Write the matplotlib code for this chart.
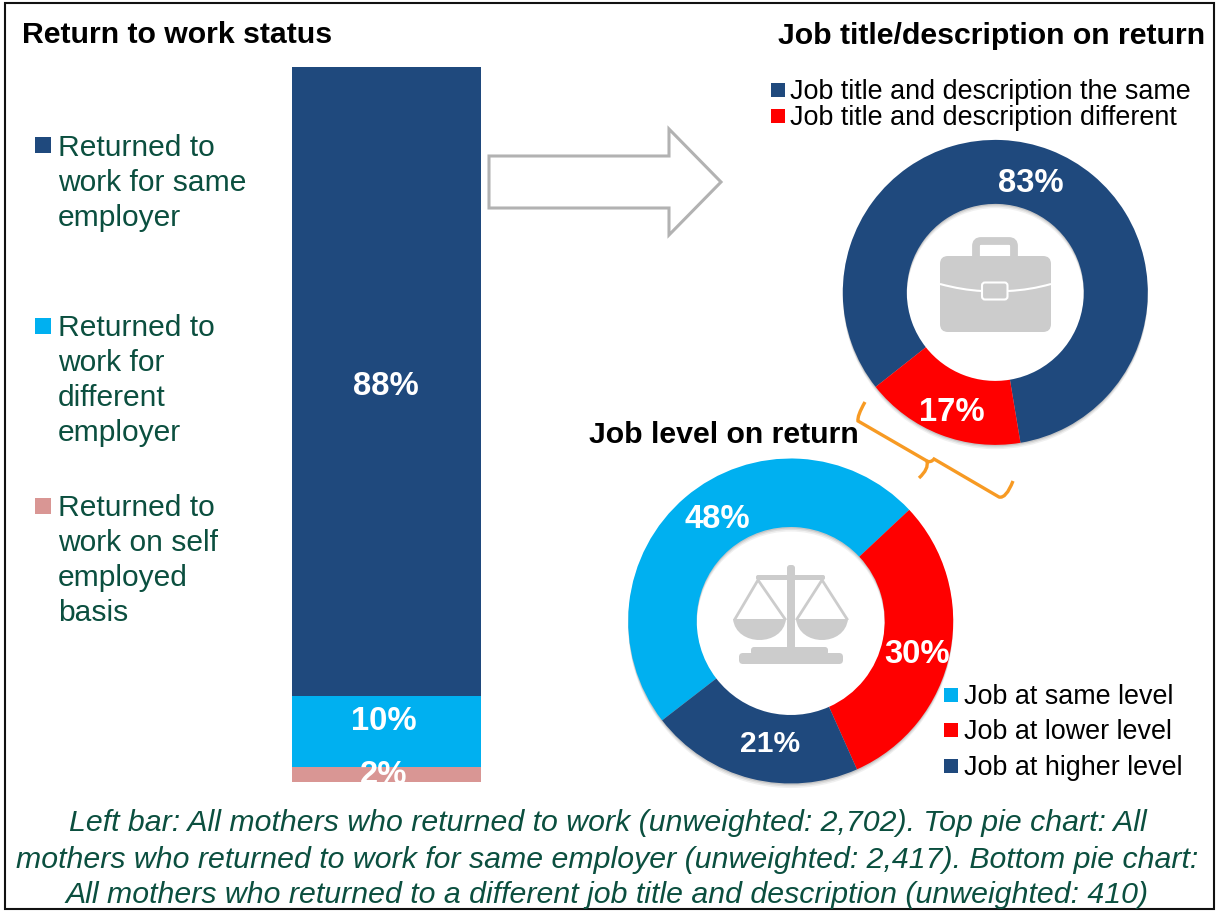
import matplotlib
matplotlib.use("Agg")
import matplotlib.pyplot as plt
from matplotlib.patches import Rectangle, Polygon, FancyBboxPatch, PathPatch
from matplotlib.path import Path

W, H = 1216, 912
NAVY, CYAN, PINK, RED = "#1f497d", "#00b0f0", "#d99694", "#ff0000"
GREEN = "#0b4f3f"
GREY = "#cccccc"
ORANGE = "#f79a23"
plt.rcParams["font.family"] = ["Liberation Sans", "DejaVu Sans"]

# ---- data ----
bar_values = [88, 10, 2]
bar_colors = [NAVY, CYAN, PINK]
bar_legend = ["Returned to\nwork for same\nemployer",
              "Returned to\nwork for\ndifferent\nemployer",
              "Returned to\nwork on self\nemployed\nbasis"]
title_values = [83, 17]
title_colors = [NAVY, RED]
title_legend = ["Job title and description the same", "Job title and description different"]
level_values = [48, 30, 21]
level_colors = [CYAN, RED, NAVY]
level_legend = ["Job at same level", "Job at lower level", "Job at higher level"]
footnote = ["Left bar: All mothers who returned to work (unweighted: 2,702). Top pie chart: All",
            "mothers who returned to work for same employer (unweighted: 2,417). Bottom pie chart:",
            "All mothers who returned to a different job title and description (unweighted: 410)"]

fig = plt.figure(figsize=(W / 100, H / 100), dpi=100, facecolor="white")


def box(x0, y0, x1, y1):
    return [x0 / W, 1 - y1 / H, (x1 - x0) / W, (y1 - y0) / H]


# ---- stacked bar ----
ax_bar = fig.add_axes(box(292, 67.6, 481, 782.6))
bottom = 0
for v, c in zip(bar_values, bar_colors):
    ax_bar.bar(0, v, width=1, bottom=bottom, color=c, linewidth=0)
    bottom += v
ax_bar.set_xlim(-0.5, 0.5)
ax_bar.set_ylim(100, 0)
ax_bar.axis("off")


def donut(values, colors, cx, cy, R, r, start):
    pad = 1.06
    ax = fig.add_axes(box(cx - R * pad, cy - R * pad, cx + R * pad, cy + R * pad))
    w = 1 - r / R
    for off, al in ((0.028, 0.06), (0.018, 0.08), (0.009, 0.10)):
        ax.pie([1], colors=["black"], center=(0, -off), radius=1,
               wedgeprops=dict(width=w, linewidth=0, alpha=al))
    ax.pie(values, colors=colors, startangle=start, counterclock=False, radius=1,
           wedgeprops=dict(width=w, linewidth=0))
    ax.set_xlim(-pad, pad)
    ax.set_ylim(-pad, pad)
    ax.set_aspect("equal")
    return ax


donut(title_values, title_colors, 995.3, 293.4, 152.5, 88.5, -141.7)
donut(level_values, level_colors, 790.7, 622, 162.5, 94, -142.3)

# ---- overlay in pixel coordinates ----
ov = fig.add_axes([0, 0, 1, 1], zorder=5)
ov.set_xlim(0, W)
ov.set_ylim(H, 0)
ov.axis("off")
ov.patch.set_alpha(0)

ov.add_patch(Rectangle((5.3, 4.2), 1208.5, 906, fill=False, ec="#111111", lw=1.5))

# titles
ov.text(22, 43, "Return to work status", fontsize=21.8, fontweight="bold", color="black", va="baseline")
ov.text(1205.5, 44, "Job title/description on return", fontsize=21.76, fontweight="bold", color="black",
        va="baseline", ha="right")
ov.text(589, 443, "Job level on return", fontsize=21.8, fontweight="bold", color="black", va="baseline")

# left legend
for label, c, ys in zip(bar_legend, bar_colors, (146.5, 327, 507)):
    ov.add_patch(Rectangle((35, ys - 8.5), 16, 16, fc=c, ec="none"))
    for i, line in enumerate(label.split("\n")):
        ov.text(58, ys + 9.5 + i * 35, line, fontsize=21.6, color=GREEN, va="baseline")

# top legend
for label, c, y in zip(title_legend, title_colors, (91, 117)):
    ov.add_patch(Rectangle((771, y - 7), 14, 14, fc=c, ec="none"))
    ov.text(790, y + 8, label, fontsize=19.35, color="black", va="baseline")

# bottom legend
for label, c, y in zip(level_legend, level_colors, (696, 731, 767)):
    ov.add_patch(Rectangle((944, y - 7), 14, 14, fc=c, ec="none"))
    ov.text(964.5, y + 8, label, fontsize=19.4, color="black", va="baseline")

# bar value labels
for v, (x, y) in zip(bar_values, ((385.5, 395), (384, 730), (384, 784))):
    t = ov.text(x, y, f"{v}%", fontsize=23.6, fontweight="bold", color="white", ha="center", va="baseline")
    t.set_clip_box(ax_bar.bbox)
    t.set_clip_on(True)

# donut value labels
for v, (x, y) in zip(title_values, ((1030.8, 191.5), (952, 421.5))):
    ov.text(x, y, f"{v}%", fontsize=23.6, fontweight="bold", color="white", ha="center", va="baseline")
for v, (x, y), fs in zip(level_values, ((717, 528), (917, 663), (770, 752)), (23.6, 23.6, 21.6)):
    ov.text(x, y, f"{v}%", fontsize=fs, fontweight="bold", color="white", ha="center", va="baseline")

# arrow
ov.add_patch(Polygon([(489, 157), (669, 157), (669, 130), (721, 183), (669, 236), (669, 209), (489, 209)],
                     closed=True, fc="white", ec="#b2b2b2", lw=2.2, joinstyle="miter"))

# bracket
C3, L, M = Path.CURVE3, Path.LINETO, Path.MOVETO
br = Path([(865, 403), (857, 417), (858, 422), (927, 462), (929, 470), (919, 479)],
          [M, C3, C3, L, C3, C3])
ov.add_patch(PathPatch(br, fc="none", ec=ORANGE, lw=2.4))
br2 = Path([(926, 462), (931, 464), (934, 460), (999, 498), (1006, 500), (1013, 482)],
           [M, C3, C3, L, C3, C3])
ov.add_patch(PathPatch(br2, fc="none", ec=ORANGE, lw=2.4))

# briefcase icon
ov.add_patch(FancyBboxPatch((976, 242), 38, 20, boxstyle="round,pad=0,rounding_size=5",
                            fc="none", ec=GREY, lw=5.6))
ov.add_patch(FancyBboxPatch((940, 257), 111, 76, boxstyle="round,pad=0,rounding_size=8",
                            fc=GREY, ec="none"))
ov.add_patch(PathPatch(Path([(940, 285), (962, 291), (982, 292)], [M, C3, C3]), fc="none", ec="white", lw=1.5))
ov.add_patch(PathPatch(Path([(1008, 292), (1030, 291), (1051, 285)], [M, C3, C3]), fc="none", ec="white", lw=1.5))
ov.add_patch(FancyBboxPatch((982, 283.5), 25.5, 17, boxstyle="round,pad=0,rounding_size=3",
                            fc=GREY, ec="white", lw=1.5))

# scales icon
ov.add_patch(FancyBboxPatch((787, 566), 8, 86, boxstyle="round,pad=0,rounding_size=3", fc=GREY, ec="none"))
ov.add_patch(FancyBboxPatch((756, 576), 69, 5, boxstyle="round,pad=0,rounding_size=2", fc=GREY, ec="none"))
C4 = Path.CURVE4
for (top, l_, r_) in ((758, 735, 785), (822, 797, 847)):
    ov.plot([l_, top, r_], [620, 581, 620], color=GREY, lw=2, solid_joinstyle="round")
for l_, r_ in ((733, 786), (796, 848)):
    pan = Path([(l_, 620), (l_ + 3, 648), (r_ - 3, 648), (r_, 620), (l_, 620)], [M, C4, C4, C4, Path.CLOSEPOLY])
    ov.add_patch(PathPatch(pan, fc=GREY, ec="none"))
ov.add_patch(FancyBboxPatch((751, 648), 77, 8, boxstyle="round,pad=0,rounding_size=3", fc=GREY, ec="none"))
ov.add_patch(FancyBboxPatch((739, 654), 104, 11, boxstyle="round,pad=0,rounding_size=4", fc=GREY, ec="none"))

# footnote
for line, y in zip(footnote, (831.5, 868, 903.5)):
    ov.text(607.5, y, line, fontsize=21.75, fontstyle="italic", color=GREEN, ha="center", va="baseline")

fig.savefig("out.png", dpi=100, facecolor="white")
